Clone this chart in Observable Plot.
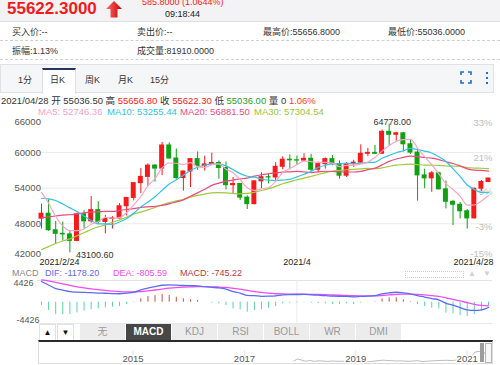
<!DOCTYPE html>
<html><head><meta charset="utf-8">
<script src="https://cdn.jsdelivr.net/npm/d3@7"></script>
<script src="https://cdn.jsdelivr.net/npm/@observablehq/plot@0.6"></script>
<style>
body{margin:0;background:#fff;}
#root{position:relative;width:500px;height:365px;overflow:hidden;font-family:"Liberation Sans",Arial,"Noto Sans CJK SC",sans-serif;}
.a{position:absolute;white-space:nowrap;}
.t9{font-size:9px;line-height:12px;}
.t95{font-size:9.5px;line-height:12px;}
.dash{position:absolute;left:0;width:500px;height:0;border-top:1px dashed #cfcfcf;}
.btn{position:absolute;top:324px;height:16px;width:45px;background:#ececec;color:#999;font-size:10px;line-height:16px;text-align:center;}
</style></head>
<body><div id="root">
<div class="a" style="left:0;top:0;width:500px;height:21px;background:#f3f3f5;border-bottom:1px solid #e0e0e3"></div>
<div class="a" style="left:7px;top:-1px;font-size:17px;line-height:20px;font-weight:bold;color:#f51a1a">55622.3000</div>
<svg class="a" style="left:106px;top:1px" width="17" height="17"><defs><linearGradient id="ag" x1="0" x2="1"><stop offset="0" stop-color="#ff6b6b"/><stop offset="1" stop-color="#c80000"/></linearGradient></defs><polygon points="8,0 16,8 11.5,8 11.5,16.5 4.5,16.5 4.5,8 0,8" fill="url(#ag)"/></svg>
<div class="a t9" style="left:142px;top:-4px;color:#f51a1a">585.8000 (1.0644%)</div>
<div class="a t9" style="left:165px;top:8px;color:#222">09:18:44</div>
<div class="a t9" style="left:12px;top:25.5px;color:#333">买入价:--</div>
<div class="a t9" style="left:137px;top:25.5px;color:#333">卖出价:--</div>
<div class="a t9" style="left:263px;top:25.5px;color:#333">最高价:55656.8000</div>
<div class="a t9" style="left:388px;top:25.5px;color:#333">最低价:55036.0000</div>
<div class="dash" style="top:40px"></div>
<div class="a t9" style="left:12px;top:45px;color:#333">振幅:1.13%</div>
<div class="a t9" style="left:137px;top:45px;color:#333">成交量:81910.0000</div>
<div class="dash" style="top:59px"></div>

<div class="a" style="left:0;top:64px;width:492px;height:27px;background:#f5f6f8;border:1px solid #dfe1e6"></div>
<div class="a" style="left:42px;top:68px;width:32px;height:24px;background:#fff;border-top:2px solid #26355c;border-left:1px solid #dfe1e6;border-right:1px solid #dfe1e6"></div>
<div class="a t9" style="left:18px;top:73.5px;color:#333">1分</div>
<div class="a t9" style="left:50px;top:73.5px;color:#333">日K</div>
<div class="a t9" style="left:85px;top:73.5px;color:#333">周K</div>
<div class="a t9" style="left:118px;top:73.5px;color:#333">月K</div>
<div class="a t9" style="left:150px;top:73.5px;color:#333">15分</div>
<svg class="a" style="left:460px;top:71px" width="34" height="14"><g fill="none" stroke="#1c6fd6" stroke-width="1.6"><path d="M1,4V1H4M8,1H11V4M11,9V12H8M4,12H1V9"/></g><g fill="#1c6fd6"><rect x="26" y="1" width="2" height="2"/><rect x="26" y="6" width="2" height="2"/><rect x="26" y="11" width="2" height="2"/></g></svg>

<div class="a t95" style="left:1px;top:94.7px;color:#333">2021/04/28 开 55036.50 高 <span style="color:#f51a1a">55656.80</span> 收 <span style="color:#f51a1a">55622.30</span> 低 <span style="color:#2a9d2a">55036.00</span> 量 0 <span style="color:#ff3b1a">1.06%</span></div>
<div class="a t95" style="left:38px;top:105.7px;color:#f7a1c4">MA5: 52746.36</div>
<div class="a t95" style="left:107px;top:105.7px;color:#2fc3e6">MA10: 53255.44</div>
<div class="a t95" style="left:180px;top:105.7px;color:#ea4c7f">MA20: 56881.50</div>
<div class="a t95" style="left:254px;top:105.7px;color:#9cc434">MA30: 57304.54</div>

<div class="a t9" style="left:12px;top:267.3px;color:#888">MACD</div>
<div class="a t9" style="left:45px;top:267.3px;color:#5a6cf3">DIF: -1178.20</div>
<div class="a t9" style="left:113px;top:267.3px;color:#f24cf2">DEA: -805.59</div>
<div class="a t9" style="left:180px;top:267.3px;color:#b83a3a">MACD: -745.22</div>
<div class="a" style="left:405px;top:271px;width:57px;height:5px;border:1px dotted #cfcfcf"></div>
<div class="a" style="left:468px;top:268px;font-size:8px;line-height:12px;color:#d0d0d0">▲</div>
<div class="a" style="left:483px;top:268px;font-size:8px;line-height:12px;color:#d0d0d0">▼</div>
<div class="a" style="left:37px;top:279.5px;width:455px;height:0;border-top:1px solid #e3e3e3"></div>
<div class="a" style="left:37px;top:323px;width:455px;height:0;border-top:1px solid #e8e8e8"></div>

<div class="a" style="left:39px;top:324px;width:15px;height:15px;border:1px solid #e2e2e2;background:#fff;font-size:8px;line-height:15px;text-align:center;color:#111">▲</div>
<div class="a" style="left:57px;top:324px;width:15px;height:15px;border:1px solid #e2e2e2;background:#fff;font-size:8px;line-height:15px;text-align:center;color:#111">▼</div>
<div class="btn" style="left:80px">无</div>
<div class="btn" style="left:126px;background:#474747;color:#fff;font-weight:bold">MACD</div>
<div class="btn" style="left:172px">KDJ</div>
<div class="btn" style="left:218px">RSI</div>
<div class="btn" style="left:264px">BOLL</div>
<div class="btn" style="left:310px">WR</div>
<div class="btn" style="left:356px">DMI</div>

<div class="a" style="left:38px;top:340px;width:453px;height:21px;border-top:2px solid #2a2a2a;border-left:1px solid #dcdcdc;border-right:1px solid #dcdcdc;border-bottom:1px solid #dcdcdc"></div>
<div id="main"></div><div id="macd"></div><div id="nav"></div>
<div class="a" style="left:480px;top:343px;width:4px;height:19px;background:#9c9c9c"></div>
<div class="a" style="left:485px;top:343px;width:5px;height:18px;border:1px solid #b5b5b5;background:#f6f6f6"></div>
</div>
<script>
const FONT = '"Liberation Sans", Arial, "Noto Sans CJK SC", sans-serif';
// ---- daily candles 2021/2/24 .. 2021/4/28 (index 0..63)
const openP  = [48850,49690,46900,46300,46200,45100,49600,48400,50300,48300,48800,48900,50950,52350,54850,55900,57800,57300,61200,59000,55700,56800,58900,57700,58000,58250,57400,54500,54700,52400,51300,55150,55850,55800,57600,58800,58700,58650,58950,57100,58050,58900,58050,56100,58100,58300,59800,59950,59800,63500,63000,63250,61400,60000,56150,55650,56500,53800,51700,51200,50100,48900,53900,55036.5];
const highP  = [51300,52050,48400,48300,46700,49750,50200,52600,51700,49400,49200,51400,52400,54900,57300,58100,58000,61700,61650,60600,56900,58950,60100,59400,59900,58600,58400,55800,54800,52700,55200,56600,56300,58300,59300,59600,59400,59800,59700,58400,59100,59500,58600,58300,58700,61300,60700,61200,63800,64778,63450,63400,62200,60300,57200,56800,56700,55200,51900,51600,50400,54000,55300,55656.8];
const lowP   = [47100,46700,44500,45100,43100.6,44950,47100,48100,47900,46300,47100,48800,49300,51850,53100,54300,55000,56100,58900,55500,53500,54100,57000,56900,57900,55500,53700,53000,51900,50400,51200,53900,54700,55200,57100,57100,57900,58500,56800,56600,57200,57800,55500,55800,57500,58200,59300,59700,59700,61200,61900,60100,59700,51800,53900,53300,53700,50500,47700,48800,47100,48800,53400,55036];
const closeP = [49690,46900,46300,46200,45100,49600,48400,50300,48300,48800,48900,50950,52350,54850,55900,57800,57300,61200,59000,55700,56800,58900,57700,58000,58250,57400,54500,54700,52400,51300,55150,55850,55800,57600,58800,58700,58650,58950,57100,58050,58900,58050,56100,58100,58300,59800,59950,59800,63500,63000,63250,61400,60000,56150,55650,56500,53800,51700,51200,50100,48900,53900,55036.5,55622.3];
// ---- moving averages
const ma5  = [53300,51460,49220,47620,46840,46820,47120,47920,48340,49080,48940,49050,49860,51170,52590,54370,55640,57410,58240,58200,58000,58320,57620,57480,57960,58080,57200,56600,55420,54060,53610,53880,54100,55140,56630,57350,57940,58570,58470,58330,58360,58210,57640,57840,57870,58050,58420,59160,60240,61190,61890,62190,62230,60760,59300,57940,56420,54760,53770,52660,51140,51160,51830,52746.36];
const ma10 = [52300,52200,51910,51320,50670,50040,49280,48560,47970,47960,47880,48290,48890,49760,50840,51660,52550,53640,54710,55400,56190,56980,57520,57860,58080,58040,57760,57110,56450,56010,55850,55540,55350,55280,55350,55480,55910,56340,56810,57480,57860,58080,58100,58160,58100,58200,58320,58400,59040,59530,59970,60300,60700,60500,60250,59920,59310,58500,57270,55980,54540,53790,53290,53255.44];
const ma20 = [49000,49150,49300,49450,49510,49670,49840,49960,50000,50080,50090,50240,50400,50540,50750,50850,50910,51100,51340,51680,52030,52630,53200,53810,54460,54850,55150,55370,55580,55700,56020,56260,56430,56570,56710,56760,56840,56720,56630,56750,56850,56810,56730,56720,56720,56840,57110,57370,57920,58510,58910,59190,59400,59330,59170,59060,58810,58450,58150,57760,57260,57050,56990,56881.5];
const ma30 = [43660,44140,44670,45090,45450,45960,46470,47030,47460,47830,48230,48660,49100,49630,49950,50330,50740,51180,51560,51850,52120,52490,52770,52980,53200,53250,53200,53100,53040,53120,53300,53600,53920,54300,54750,55060,55410,55690,55990,56300,56630,56870,56990,57100,57180,57240,57330,57280,57430,57670,57890,57970,58050,57980,57900,57870,57840,57740,57700,57660,57460,57390,57360,57304.54];
// ---- MACD
const macdHist = [-740,-1850,-2740,-2740,-2740,-2370,-2000,-1700,-1480,-1260,-1110,-960,-520,-150,740,1260,1480,1700,1480,1110,740,520,370,0,-220,-370,-740,-1480,-1700,-2220,-1850,-1700,-1330,-960,-370,-220,-150,-100,-220,-300,-370,-520,-450,-370,-520,-220,-100,100,740,960,960,520,100,-520,-960,-1330,-1480,-2440,-2590,-2960,-3180,-2740,-2000,-745];
const dif = [4608,3821,3034,2691,2349,2238,2173,2110,2035,1988,1924,1879,2034,2200,2738,3155,3450,3773,3848,3801,3709,3664,3635,3450,3313,3191,2914,2359,2036,1499,1453,1315,1334,1399,1648,1695,1711,1724,1636,1559,1478,1338,1316,1310,1170,1293,1340,1453,1865,2095,2215,2060,1863,1488,1148,796,536,-249,-648,-1203,-1710,-1833,-1713,-1178.2];
const dea = [4978,4746,4404,4061,3719,3423,3173,2960,2775,2618,2479,2359,2294,2275,2368,2525,2710,2923,3108,3246,3339,3404,3450,3450,3423,3376,3284,3099,2886,2609,2378,2165,1999,1879,1833,1805,1786,1774,1746,1709,1663,1598,1541,1495,1430,1403,1390,1403,1495,1615,1735,1800,1813,1748,1628,1461,1276,971,648,278,-120,-463,-713,-805.59];
// ---- axes / labels
const priceTicks = [66000,60000,54000,48000,42000];
const gridPrices = [60000,54000,48000];
const pctTicks = [33,21,9,-3,-15];
const pctBase = 48890;
const dateTickIdx = [0,36,63];
const dateTickLabels = ["2021/2/24","2021/4","2021/4/28"];
const macdTicks = [4426,-4426];
// ---- navigator (long history)
const navDates = ["2017-11-20","2017-12-17","2018-02-06","2018-03-05","2018-04-06","2018-05-05","2018-06-29","2018-07-24","2018-09-01","2018-11-14","2018-12-15","2019-02-07","2019-04-02","2019-06-26","2019-09-24","2019-10-26","2019-12-17","2020-02-12","2020-03-12","2020-06-01","2020-08-17","2020-10-01","2020-11-30","2021-01-08","2021-01-27","2021-02-21","2021-03-13","2021-04-14","2021-04-25","2021-04-28"];
const navVals = [8200,19500,7000,11500,6600,9700,5900,8300,7200,6300,3200,3400,4900,12900,8500,9200,6600,10300,4900,10200,12300,10600,19700,40000,30400,57500,61200,63500,49000,55600];
const navYears = ["2015","2017","2019","2021"];

const UP = "#f51b1b", DN = "#10a012";
const candles = openP.map((o,i)=>({i, open:o, high:highP[i], low:lowP[i], close:closeP[i], up: closeP[i] >= o}));
const col = d => d.up ? UP : DN;
const yDom = [42000, 66000];
const clampY = v => Math.max(yDom[0], Math.min(yDom[1], v));
const lowIdx = d3.minIndex(lowP), highIdx = d3.maxIndex(highP);
const style = {fontFamily: FONT, fontSize: "9px", background: "transparent", overflow: "visible"};
const X = {domain:[0,63], range:[41,488], axis:null};
function place(svg, top, id){
  svg.style.position = "absolute"; svg.style.left = "0px"; svg.style.top = top + "px";
  document.getElementById(id).replaceWith(svg);
}

const main = Plot.plot({
  width:500, height:160, marginLeft:37, marginRight:8, marginTop:6.5, marginBottom:11.2,
  x: X,
  y: {domain: yDom, range:[148.8, 6.5], axis:null},
  color: {type:"identity"},
  style,
  marks: [
    Plot.ruleY(gridPrices, {stroke:"#ebebeb"}),
    Plot.ruleX([dateTickIdx[1]], {stroke:"#ebebeb"}),
    Plot.text(pctTicks.slice(0,4), {y: d=>clampY(pctBase*(1+d/100)), text: d=>d+"%", frameAnchor:"right", textAnchor:"end", fill:"#bdbdbd", fontSize:9.5}),
    Plot.text(pctTicks.slice(4), {y: d=>clampY(pctBase*(1+d/100)), text: d=>d+"%", frameAnchor:"right", textAnchor:"end", fill:"#bdbdbd", fontSize:9.5, dy:-5.5}),
    Plot.text(priceTicks.slice(0,1), {y: d=>d, text: d=>String(d), frameAnchor:"left", dx:-23, textAnchor:"start", fill:"#555", fontSize:9.5, dy:5.2}),
    Plot.text(priceTicks.slice(1,4), {y: d=>d, text: d=>String(d), frameAnchor:"left", dx:-23, textAnchor:"start", fill:"#555", fontSize:9.5}),
    Plot.text(priceTicks.slice(4), {y: d=>d, text: d=>String(d), frameAnchor:"left", dx:-23, textAnchor:"start", fill:"#555", fontSize:9.5, dy:-5}),
    Plot.ruleX(candles, {x:"i", y1:"low", y2:"high", stroke: col, strokeWidth:1}),
    Plot.rect(candles, {x1: d=>d.i-0.35, x2: d=>d.i+0.35, y1:"open", y2:"close", fill: col, insetTop:-0.5, insetBottom:-0.5}),
    Plot.lineY(ma30, {stroke:"#a2c83c", strokeWidth:1.2, curve:"monotone-x"}),
    Plot.lineY(ma20, {stroke:"#ea4c7f", strokeWidth:1.2, curve:"monotone-x"}),
    Plot.lineY(ma10, {stroke:"#32c3e6", strokeWidth:1.2, curve:"monotone-x"}),
    Plot.lineY(ma5,  {stroke:"#f8a6c6", strokeWidth:1.2, curve:"monotone-x"}),
    Plot.text([lowIdx], {x: d=>d, y: d=>lowP[d], text: d=>lowP[d].toFixed(2), textAnchor:"start", dx:6, dy:2, fill:"#333"}),
    Plot.text([highIdx], {x: d=>d, y: d=>highP[d], text: d=>highP[d].toFixed(2), textAnchor:"middle", dx:3, dy:-2, fill:"#333"}),
    Plot.text([0], {x: d=>dateTickIdx[d], text: d=>dateTickLabels[d], frameAnchor:"bottom", dy:6, textAnchor:"start", dx:-2, fill:"#222"}),
    Plot.text([1], {x: d=>dateTickIdx[d], text: d=>dateTickLabels[d], frameAnchor:"bottom", dy:6, textAnchor:"middle", fill:"#222"}),
    Plot.text([2], {x: d=>dateTickIdx[d], text: d=>dateTickLabels[d], frameAnchor:"bottom", dy:6, textAnchor:"end", dx:5, fill:"#222"})
  ]
});
place(main, 110, "main");

const macdPlot = Plot.plot({
  width:500, height:50, marginLeft:37, marginRight:8, marginTop:4, marginBottom:3,
  x: X,
  y: {domain:[-4426,4426], range:[45.6, 5.8], axis:null},
  color: {type:"identity"},
  style,
  marks: [
    Plot.ruleX([dateTickIdx[1]], {stroke:"#ebebeb"}),
    Plot.ruleX(macdHist, {x:(d,i)=>i, y1:0, y2:d=>d, stroke: d=> d>=0 ? "#c9503e" : "#55d4a6", strokeWidth:1}),
    Plot.lineY(dea, {stroke:"#f04cf0", strokeWidth:1.3, curve:"monotone-x"}),
    Plot.lineY(dif, {stroke:"#5a6cf3", strokeWidth:1.3, curve:"monotone-x"}),
    Plot.text(macdTicks.slice(0,1), {y:d=>d, text:d=>String(d), frameAnchor:"left", dx:-24, dy:1, textAnchor:"start", fill:"#555", fontSize:9}),
    Plot.text(macdTicks.slice(1), {y:d=>d, text:d=>String(d), frameAnchor:"left", dx:-21, dy:-2.3, textAnchor:"start", fill:"#555", fontSize:9})
  ]
});
place(macdPlot, 276, "macd");

const parse = d3.utcParse("%Y-%m-%d");
const navData = navDates.map((d,i)=>({date: parse(d), v: navVals[i]}));
const yearDates = navYears.map(y => parse(y+"-01-01"));
const navPlot = Plot.plot({
  width:500, height:22, marginLeft:39, marginRight:8, marginTop:0, marginBottom:0,
  x: {type:"utc", domain:[parse("2013-04-28"), parse("2021-04-28")], range:[39,484.5], axis:null},
  y: {domain:[0,64000], range:[21,9.5], axis:null},
  style,
  marks: [
    Plot.ruleX(yearDates, {stroke:"#e2e2e2", y1:0, y2:64000}),
    Plot.line(navData, {x:"date", y:"v", stroke:"#bdbdbd", strokeWidth:1}),
    Plot.text(yearDates, {x:d=>d, text:(d,i)=>navYears[i], frameAnchor:"top", dy:14, fill:"#555", fontSize:9.5, stroke:"#fff", strokeWidth:3})
  ]
});
place(navPlot, 341, "nav");
</script>
</body></html>
